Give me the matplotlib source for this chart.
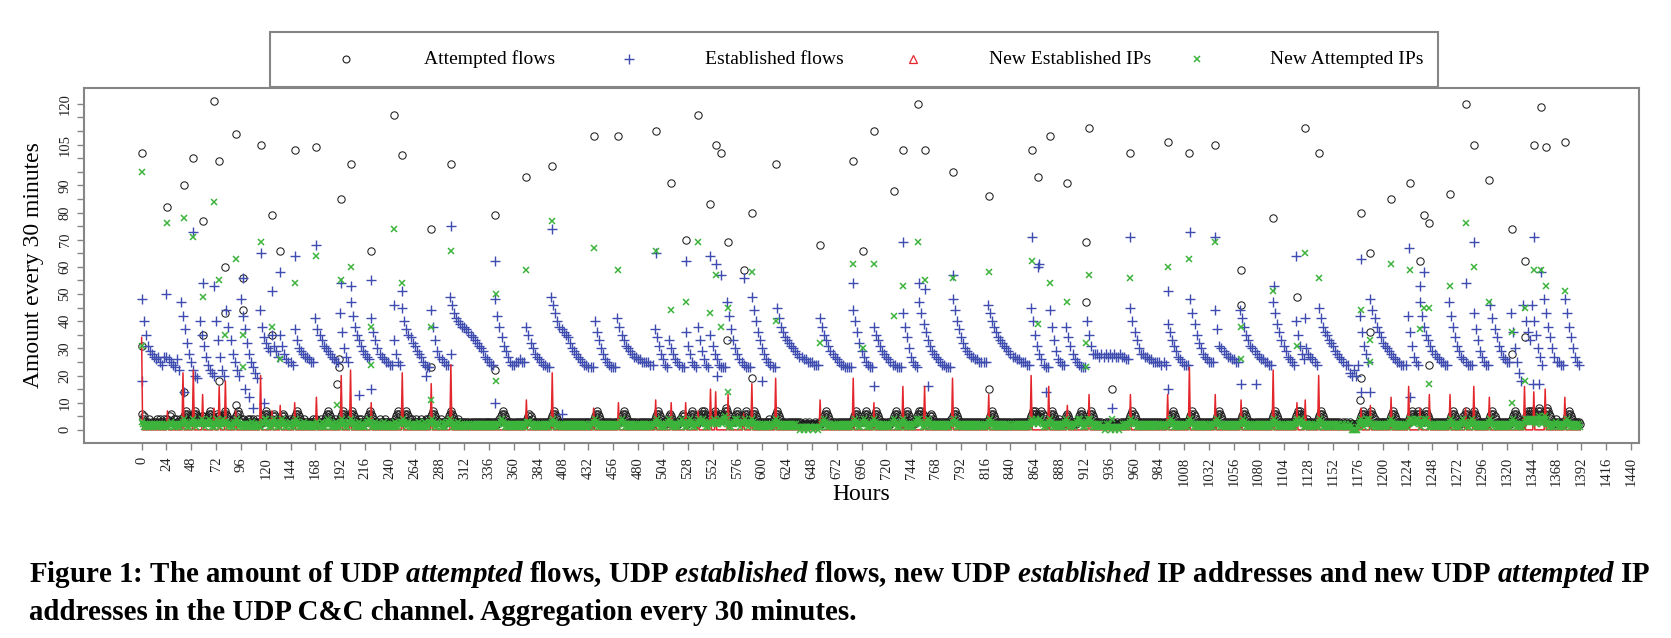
import numpy as np
import matplotlib
matplotlib.use('Agg')
import matplotlib.pyplot as plt
from matplotlib.lines import Line2D
from matplotlib.patches import Rectangle

plt.rcParams['font.family'] = ['Liberation Serif', 'DejaVu Serif']
plt.rcParams['mathtext.fontset'] = 'custom'
plt.rcParams['mathtext.rm'] = 'Liberation Serif:bold'
plt.rcParams['mathtext.it'] = 'Liberation Serif:italic:bold'
plt.rcParams['mathtext.bf'] = 'Liberation Serif:bold'

# ---------------- data ----------------
EST_STEP = 2  # hours between the established-flow samples below
established_days = [
    [48,40,35,31,29,28,27,26,27,25,24,27], [27,26,25,24,23,26,22,47,42,37,32,28],
    [25,22,20,19,40,35,31,27,24,22,21,20], [40,33,27,22,20,44,38,33,28,25,22,20],
    [48,42,37,32,28,25,23,21,19,44,38,34], [32,30,29,35,31,29,27,35,31,28,26,25],
    [25,24,37,33,30,29,28,27,27,26,25,25], [41,37,35,33,31,30,29,28,27,26,25,25],
    [43,36,30,27,25,47,42,38,35,33,31,29], [28,27,26,41,36,33,30,28,27,26,25,25],
    [24,24,33,28,25,24,45,40,37,35,34,32], [31,29,28,27,25,24,23,23,44,38,33,29],
    [27,26,25,24,24,49,46,43,41,40,39,38], [38,37,36,35,34,33,32,31,30,29,27,26],
    [25,24,24,48,42,38,34,31,29,27,25,24], [24,25,25,26,25,25,38,35,32,30,28,27],
    [26,25,24,24,23,23,49,46,43,40,38,37], [36,35,34,32,30,29,28,27,26,25,24,24],
    [23,23,23,40,36,33,30,28,26,25,24,23], [23,23,41,38,35,33,31,30,29,28,27,27],
    [26,26,25,25,25,25,24,24,37,34,31,28], [26,24,23,33,30,28,26,25,24,23,23,36],
    [31,28,25,24,23,38,33,29,26,24,23,35], [31,28,26,24,23,23,23,47,42,37,33,30],
    [28,26,25,24,23,23,23,49,44,40,36,33], [30,28,26,25,24,23,23,45,41,38,36,34],
    [33,32,31,30,29,28,27,27,26,26,25,25], [25,24,24,24,41,38,35,33,31,29,28,27],
    [26,25,24,24,23,23,23,23,44,40,36,32], [29,27,25,24,23,23,38,35,33,31,29,28],
    [27,26,25,24,24,23,23,23,43,38,34,30], [27,25,24,23,47,43,39,36,33,31,29,28],
    [27,26,25,24,24,23,23,23,48,44,40,37], [34,32,30,29,28,27,27,26,26,25,25,25],
    [25,46,43,40,38,36,34,33,32,31,30,29], [28,27,27,26,26,25,25,25,24,24,45,40],
    [35,31,28,26,24,23,23,44,38,33,29,26], [25,24,24,38,34,31,28,26,25,24,23,23],
    [23,40,35,31,28,28,28,27,28,27,28,27], [28,27,28,27,27,28,27,27,26,26,45,40],
    [36,33,30,28,28,27,27,26,26,25,25,25], [25,24,25,24,39,36,33,31,29,27,26,25],
    [24,24,24,48,43,39,35,32,30,28,27,26], [25,25,25,44,37,31,30,29,28,27,27,26],
    [26,25,25,44,41,38,35,33,31,30,29,28], [27,26,26,25,25,24,24,47,43,39,36,33],
    [31,29,27,26,25,24,40,35,31,28,26,30], [28,27,26,25,24,45,41,38,36,35,33,32],
    [31,29,28,27,26,25,24,24,21,20,22,20], [24,42,36,31,28,25,48,44,41,38,36,34],
    [32,31,30,29,28,27,26,25,25,24,24,24], [42,36,31,27,25,24,47,42,38,35,33,31],
    [29,28,27,26,25,25,24,24,47,42,38,34], [31,29,27,26,25,24,24,24,43,37,33,29],
    [27,25,24,24,46,41,37,34,31,29,27,26], [25,25,43,36,30,25,21,18,46,40,36,33],
    [46,40,35,30,27,24,48,43,38,34,30,27], [25,25,24,24,48,43,38,34,30,27,25,24],
]
est_out_hours = [0,24,41,50,59,70,98,100,104,108,115,118,126,134,148,169,193,202,210,222,222,
                 244,252,275,299,299,342,342,397,406,497,526,550,555,560,556,582,600,688,708,
                 736,752,757,760,784,861,867,874,868,956,992,992,938,1014,1038,1063,1077,1095,
                 1116,1125,1179,1179,1188,1225,1226,1236,1240,1280,1288,1346,1353,1345,1351]
est_out_vals = [18,50,14,73,54,53,56,15,12,8,65,10,51,58,64,68,54,53,13,55,15,
                46,51,20,75,28,62,10,74,6,65,62,64,61,57,20,56,18,54,16,
                69,54,52,16,57,71,60,14,61,71,51,15,8,73,71,17,17,53,
                64,41,63,14,14,67,12,53,58,54,69,71,58,17,17]

# hourly baseline of attempted flows (one digit per hour, one string per day)
attempted_base_days = [
    "645332342232323423433243", "343563342433243445676543", "445676543455433456765443",
    "465543456765433343456763", "434232343432433343233456", "765433456543343456543334",
    "334456765433343233233343", "343234333456765433343233", "456765434567654333434323",
    "334567654333234332343323", "232334567654345676543423", "343323433234343456765433",
    "343323334567654333433232", "323232323232323232323233", "232323232345676543323232",
    "232323232323345654323232", "323232323232456765432323", "232323232323232323232323",
    "323234567654323232323232", "232323345676543232323232", "232323232323232345676543",
    "323234565432323234565432", "345676543234567676543454", "567654565456787654333456",
    "765434567654345676543323", "232323343234567654323232", "232323232323232223222322",
    "222322232234567654323232", "232323232323232345676543", "345676543234567654323232",
    "232323456765432234567654", "323234567676543234565432", "323232323232323456765432",
    "323232323232323232323232", "323456765432323232323232", "323232323232323232345676",
    "765456765432345676543234", "323234565432323234567654", "343456765432323232223232",
    "222322232223232323345676", "543232323232323232323232", "323232323345676543232323",
    "323234567654323232323232", "323232345676543232323232", "323232345676543232323232",
    "323232323232345676543232", "323232323234567676543234", "323232323456765432323232",
    "323232322232322232222222", "234567654345676543232323", "323232345676543232323232",
    "345676545676543456765432", "323232323232323234567654", "323234567654345676543232",
    "323232345676543232323232", "323234567654323234567676", "765456787654567876543234",
    "323232323456765432323232",
]
att_out_hours = [0,25,41,50,59,70,75,81,91,98,115,126,134,148,169,193,202,222,244,252,280,299,
                 342,372,397,437,461,497,512,526,538,550,555,560,567,582,590,613,656,688,697,
                 708,727,736,751,757,784,819,861,867,878,895,913,916,956,992,1013,1038,1063,
                 1094,1125,1138,1179,1188,1208,1226,1236,1240,1245,1265,1280,1288,1303,1325,
                 1337,1346,1353,1358,1376,
                 0,41,59,75,81,91,98,126,189,191,191,280,342,566,590,819,913,938,1063,1117,
                 1179,1178,1188,1245,1325,1337]
att_out_vals = [102,82,90,100,77,121,99,60,109,56,105,79,66,103,104,85,98,66,116,101,74,98,
                79,93,97,108,108,110,91,70,116,83,105,102,69,59,80,98,68,99,66,
                110,88,103,120,103,95,86,103,93,108,91,69,111,102,106,102,105,59,
                78,111,102,80,65,85,91,62,79,76,87,120,105,92,74,
                62,105,119,104,106,
                31,14,35,18,43,9,44,35,17,26,23,23,22,33,19,15,47,15,46,49,
                19,11,36,24,28,34]

red_spike_hours = [0,25,40,50,59,70,75,81,91,115,126,134,148,169,193,202,222,252,280,299,372,397,
                   437,461,497,512,526,538,550,555,567,582,590,613,656,688,708,736,757,784,819,
                   860,877,895,916,956,992,1013,1038,1063,1094,1117,1125,1138,1179,1188,1208,
                   1225,1236,1245,1265,1280,1288,1303,1337,1346,1357,1376]
red_spike_vals = [34,7,21,22,13,8,16,18,7,20,7,9,10,12,20,22,10,21,17,24,11,21,
                  8,10,11,10,10,7,15,14,13,6,17,19,11,19,10,16,16,19,13,
                  20,16,9,13,13,13,23,13,11,22,10,11,20,8,9,12,
                  16,8,13,13,8,16,12,16,14,15,12]
N_HOURS = 1392

new_attempted_base_days = [
    "321212112121221212212112", "121232121221212234321212", "234321232343212234321212",
    "243212343232121213234312", "212121212213121212112334", "432121234321212343212123",
    "121234321212132121212121", "123121312123432121213121", "234321213343212121312121",
    "123343212131212121312121", "121213121223343212312121", "212131212131213234321212",
    "213121223343212121312121", "121212121212121212121212", "121212121223432121212121",
    "212121212121233321212121", "121212121212234321212121", "212121212121212121212121",
    "121223432121212121212121", "212121234321212121212121", "121212121212121223432121",
    "121223432121212123432121", "234321212234323432121232", "343232343234543212122343",
    "432123343212234321212121", "121212121212343212121212", "121212121211101101110111",
    "101111011123432121212121", "121212121212121223432121", "234321212123432121212121",
    "121212343212112343212121", "121223434321212343212121", "212121212121212234321212",
    "212121212121212121212121", "212343212121212121212121", "121212121212121212123432",
    "343234321212234321212121", "212123432121212234343212", "123434321212121211101212",
    "101110111011121212123432", "321212121212121212121212", "212121212234321212121212",
    "212123432121212121212121", "121212234321212121212121", "212121223432121212121212",
    "121212121212123432121212", "121212121212343234321212", "212121212134321212121212",
    "212121211121211121000000", "123432123434321212121212", "212121234321212121212121",
    "234343234343212343432121", "212121212121212123432121", "212123432121234321212121",
    "212121234321212121212121", "212123432121212123434343", "434323454323454321212123",
    "212121212343212121212121",
]
natt_out_hours = [0,0,25,41,50,59,70,75,81,91,98,98,115,126,134,148,169,189,193,202,222,222,
                  244,252,280,280,299,343,343,372,397,437,461,497,512,526,538,550,555,560,567,
                  567,590,613,656,688,697,708,727,736,751,757,784,819,861,867,878,895,913,913,
                  916,938,956,992,1013,1038,1063,1063,1094,1117,1125,1138,1179,1188,1188,1208,
                  1226,1236,1240,1245,1245,1265,1280,1288,1303,1325,1325,1337,1337,1346,1353,
                  1358,1376]
natt_out_vals = [95,31,76,78,71,49,84,55,35,63,35,23,69,38,26,54,64,9,55,60,38,24,
                 74,54,38,11,66,50,18,59,77,67,59,66,44,47,69,43,57,38,45,
                 14,58,40,32,61,30,61,42,53,69,55,56,58,62,39,54,47,32,23,
                 57,4,56,60,63,69,38,26,51,31,65,56,44,33,25,61,
                 59,37,45,45,17,53,76,60,47,36,10,45,18,59,59,
                 53,51]

series_labels = ['Attempted flows', 'Established flows', 'New Established IPs', 'New Attempted IPs']
y_tick_values = list(range(0, 125, 5))
y_tick_labels_shown = [0, 10, 20, 30, 40, 50, 60, 70, 80, 90, 105, 120]
x_tick_values = list(range(0, 1441, 24))

# ---------------- assemble series ----------------
est_base = np.array([v for d in established_days for v in d], float)
est_x = np.concatenate([np.arange(len(est_base)) * EST_STEP, est_out_hours])
est_y = np.concatenate([est_base, est_out_vals])

att_base = np.array([int(c) for s in attempted_base_days for c in s], float)
att_x = np.concatenate([np.arange(len(att_base)), att_out_hours])
att_y = np.concatenate([att_base, att_out_vals])

natt_base = np.array([int(c) for s in new_attempted_base_days for c in s], float)
natt_x = np.concatenate([np.arange(len(natt_base)), natt_out_hours])
natt_y = np.concatenate([natt_base, natt_out_vals])

red_y = np.zeros(N_HOURS)
red_y[red_spike_hours] = red_spike_vals
red_x = np.arange(N_HOURS)

# ---------------- figure ----------------
W, H = 1671, 638
fig = plt.figure(figsize=(W / 100, H / 100), dpi=100)
L, R, T, B = 84, 1639, 88, 443
ax = fig.add_axes([L / W, 1 - B / H, (R - L) / W, (B - T) / H])

C_BLK = '#1e1e1e'
C_BLU = '#3d4cae'
C_RED = '#e3262c'
C_GRN = '#3cb43c'
GRAY = '#858585'

sty_att = dict(ls='none', marker='o', ms=5.3, mfc='none', mec=C_BLK, mew=0.75)
sty_est = dict(ls='none', marker='+', ms=7.5, mec=C_BLU, mew=1.0)
sty_natt = dict(ls='none', marker='x', ms=4.6, mec=C_GRN, mew=1.1)

ax.plot(att_x, att_y, zorder=2.0, **sty_att)
ax.plot(est_x, est_y, zorder=2.2, **sty_est)
ax.plot(red_x, red_y, color=C_RED, lw=1.1, zorder=2.4)
ax.plot(natt_x, natt_y, zorder=2.6, **sty_natt)

ax.set_xlim(-55.7, 1447.7)
ax.set_ylim(-4.84, 125.84)

for s in ax.spines.values():
    s.set_color(GRAY)
    s.set_linewidth(1.5)

ax.set_xticks(x_tick_values)
ax.set_xticklabels([str(v) for v in x_tick_values], rotation=90, fontsize=10.5, color='#222222')
ax.set_yticks(y_tick_values)
ax.set_yticklabels([str(v) if v in y_tick_labels_shown else '' for v in y_tick_values],
                   rotation=90, va='center', fontsize=10.5, color='#222222')
ax.tick_params(axis='both', length=5, width=1.0, color=GRAY)
ax.tick_params(axis='x', pad=5)
ax.tick_params(axis='y', pad=4)

fig.text(861 / W, 1 - 495 / H, 'Hours', fontsize=17, ha='center', va='center')
fig.text(34 / W, 1 - 265 / H, 'Amount every 30 minutes', fontsize=17, rotation=90,
         ha='center', va='center')

# ---------------- legend box (laid out like the original horizontal legend) ----------------
fig.add_artist(Rectangle((270 / W, 1 - 87 / H), (1438 - 270) / W, 55 / H,
                         transform=fig.transFigure, facecolor='white', edgecolor=GRAY,
                         lw=1.5, zorder=5))
leg_y = 1 - 59 / H
leg_marker_px = [346, 629, 913, 1197]
leg_text_px = [424, 705, 989, 1270]
leg_styles = [
    dict(marker='o', ms=5.0, mfc='none', mec=C_BLK, mew=0.8),
    dict(marker='+', ms=7.0, mec=C_BLU, mew=1.0),
    dict(marker='^', ms=5.5, mfc='none', mec=C_RED, mew=0.9),
    dict(marker='x', ms=4.6, mec=C_GRN, mew=1.1),
]
for mx, tx, st, lab in zip(leg_marker_px, leg_text_px, leg_styles, series_labels):
    fig.add_artist(Line2D([mx / W], [leg_y], ls='none', transform=fig.transFigure,
                          zorder=6, **st))
    fig.text(tx / W, leg_y, lab, fontsize=14, ha='left', va='center', zorder=6)

# ---------------- caption ----------------
line1 = (r"Figure 1: The amount of UDP $\mathit{attempted}$ flows, UDP $\mathit{established}$ "
         r"flows, new UDP $\mathit{established}$ IP addresses and new UDP $\mathit{attempted}$ IP")
line2 = "addresses in the UDP C&C channel. Aggregation every 30 minutes."
t1 = fig.text(29 / W, 1 - 575 / H, line1, fontsize=20, fontweight='bold', ha='left', va='center')
t2 = fig.text(29 / W, 1 - 612 / H, line2, fontsize=20, fontweight='bold', ha='left', va='center')
fig.canvas.draw()
w1 = t1.get_window_extent(fig.canvas.get_renderer()).width
fs = 20 * 1624 / w1
t1.set_fontsize(fs)
t2.set_fontsize(fs)

fig.savefig('out.png', dpi=100)
